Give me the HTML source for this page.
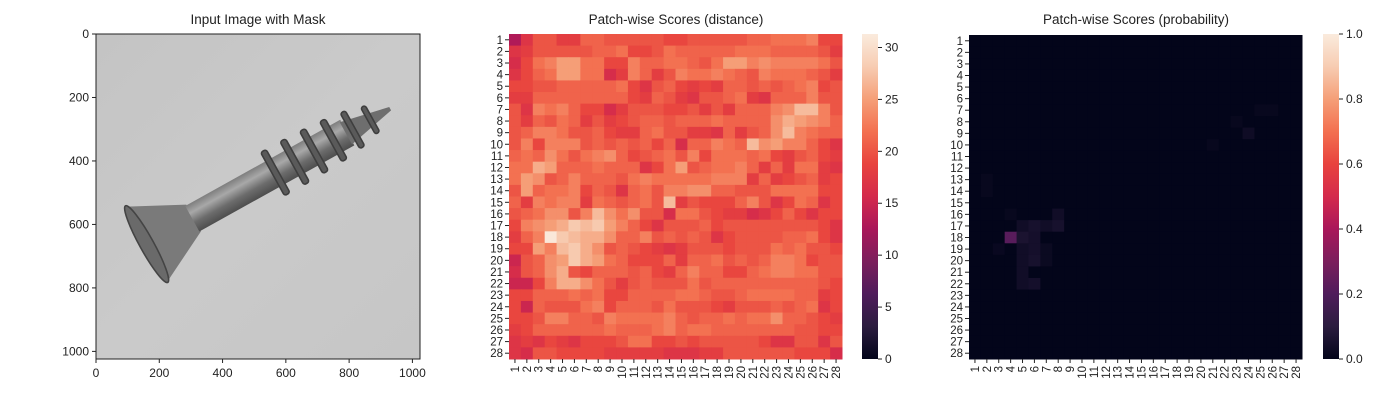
<!DOCTYPE html>
<html><head><meta charset="utf-8"><style>
body{margin:0;background:#fff;}
svg text{font-family:"Liberation Sans",Arial,sans-serif;fill:#222;}
</style></head><body>
<svg id="fig" width="1400" height="400" xmlns="http://www.w3.org/2000/svg">
<defs>
<linearGradient id="bg" x1="0" y1="0" x2="1" y2="1"><stop offset="0" stop-color="#c4c4c4"/><stop offset="0.5" stop-color="#cacaca"/><stop offset="1" stop-color="#c6c6c6"/></linearGradient>
<linearGradient id="shaft" x1="0" y1="0" x2="0" y2="1"><stop offset="0" stop-color="#7e7e7e"/><stop offset="0.3" stop-color="#a8a8a8"/><stop offset="0.65" stop-color="#6c6c6c"/><stop offset="1" stop-color="#4e4e4e"/></linearGradient>
<linearGradient id="cb" x1="0" y1="1" x2="0" y2="0">
<stop offset="0" stop-color="#03051a"/><stop offset="0.1" stop-color="#2b1c3f"/><stop offset="0.2" stop-color="#4f1c5b"/><stop offset="0.3" stop-color="#7b1e5c"/><stop offset="0.4" stop-color="#a9175a"/><stop offset="0.5" stop-color="#d42a4c"/><stop offset="0.6" stop-color="#e8433e"/><stop offset="0.7" stop-color="#f37050"/><stop offset="0.8" stop-color="#f59f78"/><stop offset="0.9" stop-color="#f7ccb2"/><stop offset="1" stop-color="#faebdd"/></linearGradient>
</defs>
<g id="p1">
<text x="258" y="24" text-anchor="middle" font-size="13.5">Input Image with Mask</text>
<svg x="96" y="34" width="324" height="325" viewBox="0 0 1024 1024" preserveAspectRatio="none">
<rect width="1024" height="1024" fill="url(#bg)"/>
<g transform="translate(160,662) rotate(-29)">
<polygon points="0,-135 170,-48 170,48 0,135" fill="#7a7a7a"/>
<rect x="165" y="-46" width="560" height="92" fill="url(#shaft)"/>
<polygon points="720,-40 880,-6 880,6 720,40" fill="#6e6e6e"/>
<g fill="#5a5a5a" stroke="#3e3e3e" stroke-width="5">
<rect x="455" y="-78" width="20" height="156" rx="8"/><rect x="525" y="-78" width="20" height="156" rx="8"/><rect x="595" y="-76" width="20" height="152" rx="8"/><rect x="665" y="-72" width="20" height="144" rx="8"/><rect x="735" y="-64" width="18" height="128" rx="8"/><rect x="800" y="-48" width="16" height="96" rx="8"/>
</g>
<ellipse cx="0" cy="0" rx="22" ry="138" fill="#6a6a6a" stroke="#444" stroke-width="5"/>
</g>
</svg>
<rect x="96" y="34" width="324" height="325" fill="none" stroke="#222" stroke-width="1"/>
<g id="p1ticks"></g>
</g>
<g id="p2">
<text x="676" y="24" text-anchor="middle" font-size="13.5">Patch-wise Scores (distance)</text>
<g id="hm2"></g>
<rect x="862" y="34" width="16" height="325" fill="url(#cb)"/>
<g id="cb2"></g>
</g>
<g id="p3">
<text x="1136" y="24" text-anchor="middle" font-size="13.5">Patch-wise Scores (probability)</text>
<g id="hm3"></g>
<rect x="1323" y="34" width="16" height="325" fill="url(#cb)"/>
<g id="cb3"></g>
</g>
</svg>
<script>
const imgTicks=[0,200,400,600,800,1000];
const distRows=[
[13,17,20,20,18,18,21,21,20,20,20,20,20,19,19,20,20,20,20,20,21,21,22,22,22,23,19,19],
[17,18,20,20,20,20,20,21,21,22,19,19,20,22,21,21,21,21,21,22,22,22,21,21,21,21,20,18],
[16,19,22,23,25,25,22,22,19,19,23,21,21,22,22,21,20,22,25,25,23,24,23,23,23,23,22,20],
[17,19,21,22,25,25,22,22,16,18,23,21,18,20,23,22,22,23,22,21,20,23,22,22,22,21,20,18],
[19,19,20,20,21,21,21,21,21,22,19,17,20,21,19,18,19,18,21,21,20,21,20,21,22,23,19,20],
[18,18,21,21,21,21,21,21,21,21,19,18,21,20,18,17,20,20,21,22,18,17,21,21,21,23,20,20],
[20,17,23,22,23,21,19,19,16,18,20,20,20,19,19,20,18,20,18,21,21,21,23,24,27,27,23,20],
[20,18,21,20,22,21,18,20,18,19,20,21,21,20,21,21,21,22,21,21,21,21,24,26,25,24,23,21],
[20,21,23,23,22,20,20,21,19,18,18,21,22,20,20,18,18,17,21,18,20,21,24,27,23,22,21,21],
[20,23,19,23,23,23,20,21,20,21,20,21,19,21,16,21,21,23,22,21,27,24,25,23,23,21,19,17],
[21,22,21,24,22,20,22,23,24,21,19,20,21,22,20,23,19,22,22,22,21,22,19,18,20,21,19,18],
[22,22,26,25,21,21,21,22,21,21,21,17,19,22,25,20,21,22,22,23,21,18,21,18,22,22,18,17],
[22,25,24,20,21,23,21,21,21,20,22,23,22,22,22,22,22,23,23,23,18,21,18,19,20,21,18,19],
[20,25,21,22,22,23,19,21,20,17,21,22,20,23,23,24,24,21,21,20,20,20,22,22,22,22,19,19],
[21,18,23,22,23,23,18,22,21,20,21,22,20,27,18,20,19,19,19,21,23,20,17,19,22,21,17,19],
[20,21,22,24,24,20,23,27,24,22,24,20,20,16,22,22,20,19,18,18,16,17,19,21,19,17,19,19],
[19,23,24,25,26,28,27,28,25,23,21,19,17,20,20,20,21,19,20,20,20,20,20,20,20,20,19,17],
[18,21,23,31,28,27,26,26,24,21,21,23,20,21,20,21,20,17,19,20,20,20,20,21,21,22,19,17],
[19,19,25,23,27,28,26,24,20,21,20,19,18,17,18,20,20,20,19,20,20,20,22,21,22,20,20,19],
[15,20,21,24,25,28,26,25,22,21,19,19,19,21,18,21,21,22,20,21,20,21,23,23,22,19,20,20],
[16,20,21,24,26,20,19,21,21,21,20,21,19,18,21,23,21,21,19,19,21,22,23,23,22,22,20,20],
[15,15,19,23,26,26,24,22,20,18,20,21,20,20,20,22,20,21,21,21,21,21,21,21,21,21,20,19],
[19,19,21,21,21,22,21,22,19,19,21,21,21,21,22,22,21,20,20,21,22,22,22,22,21,21,18,19],
[19,15,21,20,20,20,22,23,19,21,21,21,20,22,20,20,20,19,18,20,20,20,21,20,21,22,17,19],
[19,19,20,23,23,21,21,20,23,22,22,22,22,23,21,20,21,21,22,21,22,22,24,21,21,20,19,18],
[18,19,21,21,21,21,21,21,22,21,21,21,22,23,21,22,22,21,21,21,21,21,21,21,20,20,19,19],
[17,18,17,19,18,17,19,19,19,20,22,22,19,19,20,19,20,20,20,20,20,19,17,17,20,20,17,20],
[17,16,20,20,19,19,19,19,18,18,18,18,18,17,17,17,18,18,20,20,20,20,20,20,19,19,19,16]];
const distTicks=[0,5,10,15,20,25,30];
const distMax=31.3;
// probability: sparse non-zero cells [row, col, value] (1-based)
const probCells=[[18,4,0.22],[18,5,0.06],[18,6,0.045],[17,5,0.035],[17,6,0.05],[17,7,0.035],[17,8,0.05],[16,8,0.035],[16,4,0.012],[19,3,0.015],[19,5,0.035],[19,6,0.045],[19,7,0.02],[20,5,0.035],[20,6,0.05],[20,7,0.02],[21,5,0.035],[22,5,0.035],[22,6,0.045],[13,2,0.012],[14,2,0.012],[9,24,0.03],[8,23,0.012],[7,25,0.012],[7,26,0.012],[10,21,0.012]];
const probTicks=[0.0,0.2,0.4,0.6,0.8,1.0];
const probMax=1.0;

const NS="http://www.w3.org/2000/svg";
const stops=[[0,[3,5,26]],[0.1,[43,28,63]],[0.2,[79,28,91]],[0.3,[123,30,92]],[0.4,[169,23,90]],[0.5,[212,42,76]],[0.6,[232,67,62]],[0.7,[243,112,80]],[0.8,[245,159,120]],[0.9,[247,204,178]],[1,[250,235,221]]];
function cmap(t){t=Math.max(0,Math.min(1,t));for(let i=1;i<stops.length;i++){if(t<=stops[i][0]){const a=stops[i-1],b=stops[i];const f=(t-a[0])/(b[0]-a[0]);const c=a[1].map((v,k)=>Math.round(v+(b[1][k]-v)*f));return `rgb(${c})`;}}return 'rgb(250,235,221)';}
function mk(tag,attrs,parent,txt){const e=document.createElementNS(NS,tag);for(const k in attrs)e.setAttribute(k,attrs[k]);if(txt!==undefined)e.textContent=txt;parent.appendChild(e);return e;}

const p1=document.getElementById('p1ticks');
const ix=v=>96+v/1024*324, iy=v=>34+v/1024*325;
imgTicks.forEach(v=>{
 mk('line',{x1:ix(v),x2:ix(v),y1:359,y2:363,stroke:'#222'},p1);
 const t=mk('text',{x:ix(v),y:377,'text-anchor':'middle','font-size':12},p1,String(v));
 
 
 mk('line',{x1:92,x2:96,y1:iy(v),y2:iy(v),stroke:'#222'},p1);
 const t2=mk('text',{x:89,y:iy(v)+4,'text-anchor':'end','font-size':12},p1,String(v));
 
 
});

function heatmap(g,x0,y0,w,h,getVal,vmax){
 const n=28,cw=w/n,ch=h/n;
 for(let r=0;r<n;r++)for(let c=0;c<n;c++){
  const rc=mk('rect',{x:x0+c*cw,y:y0+r*ch,width:cw+0.5,height:ch+0.5,fill:cmap(getVal(r,c)/vmax)},g);
  
  
 }
 for(let i=0;i<n;i++){
  const yc=y0+(i+0.5)*ch,xc=x0+(i+0.5)*cw;
  mk('line',{x1:x0-4,x2:x0,y1:yc,y2:yc,stroke:'#222'},g);
  const t=mk('text',{x:x0-6,y:yc+4,'text-anchor':'end','font-size':11.5},g,String(i+1));
  
  
  mk('line',{x1:xc,x2:xc,y1:y0+h,y2:y0+h+4,stroke:'#222'},g);
  const t2=mk('text',{x:xc+4,y:y0+h+7,'text-anchor':'end','font-size':11.5,transform:`rotate(-90 ${xc+4} ${y0+h+7})`},g,String(i+1));
  
  
 }
}
function colorbar(g,x,y0,h,ticks,vmax,fmt){
 ticks.forEach(v=>{const y=y0+h-v/vmax*h;
  mk('line',{x1:x+16,x2:x+20,y1:y,y2:y,stroke:'#222'},g);
  const t=mk('text',{x:x+23,y:y+4,'font-size':12},g,fmt(v));
  
  
 });
}
heatmap(document.getElementById('hm2'),509,34,333,325,(r,c)=>distRows[r][c],distMax);
colorbar(document.getElementById('cb2'),862,34,325,distTicks,distMax,v=>String(v));
const probGrid=Array.from({length:28},()=>Array(28).fill(0));
probCells.forEach(([r,c,v])=>{probGrid[r-1][c-1]=v;});
heatmap(document.getElementById('hm3'),969,35,333,324,(r,c)=>probGrid[r][c],probMax);
colorbar(document.getElementById('cb3'),1323,34,325,probTicks,probMax,v=>v.toFixed(1));
</script>
</body></html>
